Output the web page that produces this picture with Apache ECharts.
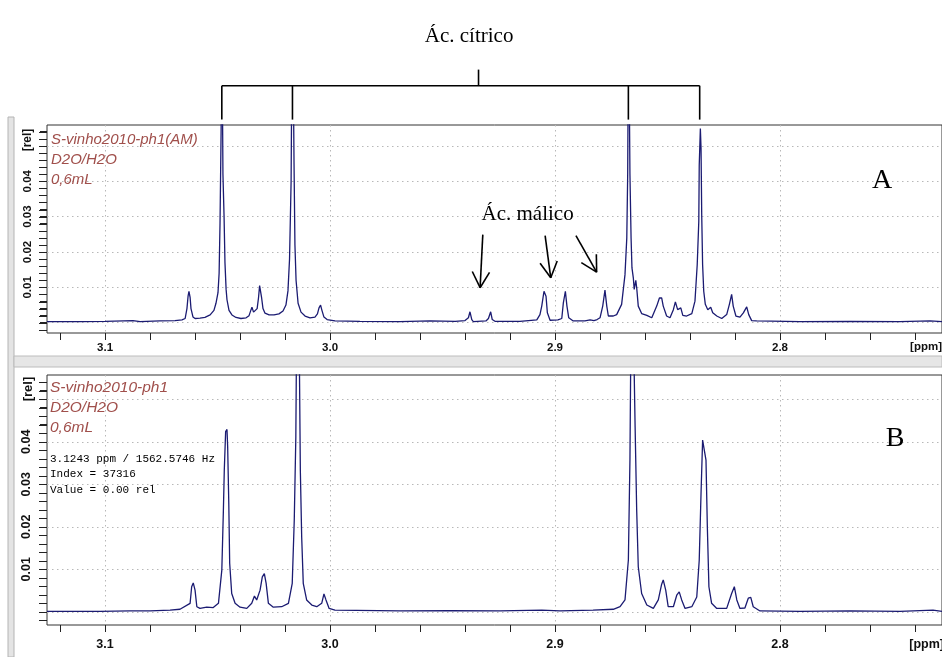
<!DOCTYPE html>
<html>
<head>
<meta charset="utf-8">
<script src="https://cdn.jsdelivr.net/npm/echarts@6/dist/echarts.min.js"></script>
<style>
html,body{margin:0;padding:0;background:#fff;}
#chart{width:942px;height:657px;}
</style>
</head>
<body>
<div id="chart"></div>
<script>
// ---------- DATA ----------
// Panel A: S-vinho2010-ph1(AM)
const ppmA = [3.1258,3.1111,3.1000,3.0876,3.0844,3.0756,3.0689,3.0658,3.0644,3.0636,3.0631,3.0627,3.0622,3.0618,3.0609,3.0600,3.0578,3.0556,3.0533,3.0516,3.0507,3.0498,3.0493,3.0489,3.0484,3.0481,3.0476,3.0471,3.0467,3.0462,3.0458,3.0449,3.0436,3.0418,3.0396,3.0373,3.0360,3.0351,3.0347,3.0340,3.0333,3.0324,3.0318,3.0313,3.0310,3.0304,3.0298,3.0289,3.0271,3.0249,3.0227,3.0209,3.0196,3.0187,3.0180,3.0173,3.0168,3.0162,3.0160,3.0156,3.0151,3.0142,3.0129,3.0111,3.0089,3.0067,3.0056,3.0049,3.0042,3.0036,3.0027,3.0013,2.9978,2.9867,2.9689,2.9556,2.9444,2.9400,2.9385,2.9378,2.9370,2.9363,2.9307,2.9296,2.9286,2.9279,2.9267,2.9156,2.9081,2.9067,2.9059,2.9049,2.9040,2.9034,2.9022,2.8987,2.8970,2.8963,2.8954,2.8947,2.8939,2.8919,2.8867,2.8844,2.8827,2.8813,2.8800,2.8788,2.8778,2.8770,2.8763,2.8741,2.8726,2.8704,2.8689,2.8681,2.8677,2.8673,2.8669,2.8667,2.8662,2.8658,2.8652,2.8648,2.8641,2.8637,2.8630,2.8615,2.8592,2.8570,2.8548,2.8536,2.8526,2.8519,2.8504,2.8489,2.8474,2.8465,2.8455,2.8441,2.8432,2.8415,2.8392,2.8378,2.8368,2.8361,2.8359,2.8354,2.8351,2.8348,2.8344,2.8339,2.8332,2.8321,2.8308,2.8299,2.8281,2.8259,2.8237,2.8225,2.8215,2.8208,2.8196,2.8178,2.8163,2.8148,2.8139,2.8126,2.8104,2.7911,2.7689,2.7467,2.7333,2.7280];
const relA = [0.0003,0.0003,0.0004,0.0006,0.0003,0.0005,0.0006,0.0008,0.0012,0.0040,0.0075,0.0089,0.0072,0.0040,0.0016,0.0012,0.0013,0.0015,0.0022,0.0035,0.0055,0.0085,0.0140,0.0280,0.0550,0.0900,0.0420,0.0300,0.0170,0.0095,0.0065,0.0035,0.0022,0.0015,0.0012,0.0014,0.0020,0.0037,0.0044,0.0030,0.0028,0.0040,0.0070,0.0105,0.0108,0.0070,0.0040,0.0027,0.0022,0.0022,0.0025,0.0033,0.0050,0.0090,0.0180,0.0400,0.0900,0.0600,0.0450,0.0220,0.0120,0.0055,0.0030,0.0019,0.0014,0.0016,0.0025,0.0042,0.0050,0.0035,0.0016,0.0009,0.0005,0.0004,0.0003,0.0005,0.0004,0.0006,0.0014,0.0031,0.0009,0.0003,0.0005,0.0012,0.0031,0.0009,0.0004,0.0004,0.0008,0.0023,0.0047,0.0089,0.0075,0.0028,0.0007,0.0008,0.0012,0.0056,0.0089,0.0047,0.0014,0.0005,0.0005,0.0008,0.0006,0.0009,0.0014,0.0047,0.0092,0.0047,0.0019,0.0019,0.0023,0.0052,0.0136,0.0240,0.0420,0.0900,0.0900,0.0420,0.0240,0.0155,0.0127,0.0094,0.0120,0.0099,0.0047,0.0026,0.0021,0.0014,0.0047,0.0070,0.0070,0.0047,0.0019,0.0014,0.0037,0.0059,0.0037,0.0042,0.0021,0.0019,0.0026,0.0061,0.0164,0.0286,0.0446,0.0549,0.0493,0.0305,0.0164,0.0089,0.0052,0.0037,0.0044,0.0028,0.0019,0.0012,0.0023,0.0052,0.0080,0.0047,0.0019,0.0016,0.0028,0.0045,0.0023,0.0006,0.0005,0.0003,0.0004,0.0003,0.0005,0.0003];

// Panel B: S-vinho2010-ph1
const ppmB = [3.1258,3.1022,3.0889,3.0800,3.0711,3.0667,3.0622,3.0615,3.0608,3.0600,3.0592,3.0578,3.0548,3.0519,3.0496,3.0481,3.0474,3.0470,3.0464,3.0458,3.0455,3.0450,3.0446,3.0437,3.0422,3.0400,3.0370,3.0348,3.0336,3.0326,3.0311,3.0301,3.0292,3.0284,3.0274,3.0252,3.0215,3.0185,3.0168,3.0159,3.0152,3.0148,3.0142,3.0138,3.0132,3.0126,3.0119,3.0104,3.0081,3.0059,3.0037,3.0027,3.0018,3.0004,2.9978,2.9689,2.9467,2.9244,2.9059,2.8978,2.8831,2.8741,2.8711,2.8689,2.8674,2.8667,2.8659,2.8652,2.8644,2.8637,2.8630,2.8615,2.8592,2.8563,2.8541,2.8526,2.8519,2.8508,2.8497,2.8474,2.8459,2.8448,2.8437,2.8422,2.8392,2.8370,2.8359,2.8351,2.8344,2.8337,2.8329,2.8323,2.8316,2.8304,2.8281,2.8237,2.8215,2.8203,2.8192,2.8178,2.8156,2.8141,2.8130,2.8119,2.8089,2.7911,2.7689,2.7467,2.7320,2.7280];
const relB = [0.0001,0.0001,0.0002,0.0002,0.0004,0.0006,0.0020,0.0059,0.0068,0.0051,0.0012,0.0008,0.0011,0.0010,0.0020,0.0098,0.0239,0.0333,0.0424,0.0429,0.0388,0.0255,0.0114,0.0043,0.0020,0.0011,0.0008,0.0020,0.0037,0.0028,0.0051,0.0082,0.0090,0.0067,0.0020,0.0011,0.0012,0.0020,0.0067,0.0216,0.0412,0.0700,0.0900,0.0700,0.0333,0.0176,0.0067,0.0028,0.0016,0.0012,0.0020,0.0042,0.0028,0.0008,0.0004,0.0002,0.0003,0.0002,0.0004,0.0002,0.0004,0.0006,0.0012,0.0028,0.0122,0.0357,0.0900,0.0900,0.0435,0.0239,0.0106,0.0043,0.0016,0.0008,0.0028,0.0065,0.0075,0.0051,0.0012,0.0012,0.0039,0.0047,0.0028,0.0008,0.0012,0.0035,0.0122,0.0279,0.0404,0.0408,0.0357,0.0200,0.0059,0.0020,0.0008,0.0008,0.0043,0.0059,0.0028,0.0008,0.0009,0.0032,0.0034,0.0012,0.0002,0.0001,0.0002,0.0001,0.0004,0.0001];

// Axis ticks / labels / grid lines
const xLabelTicks = [3.1, 3.0, 2.9, 2.8];
const xMinorTicks = [3.12,3.10,3.08,3.06,3.04,3.02,3.00,2.98,2.96,2.94,2.92,2.90,2.88,2.86,2.84,2.82,2.80,2.78,2.76,2.74];
const yLabelTicks = [0.01, 0.02, 0.03, 0.04];
const yMinorTicks = [-0.002,0,0.002,0.004,0.006,0.008,0.01,0.012,0.014,0.016,0.018,0.02,0.022,0.024,0.026,0.028,0.03,0.032,0.034,0.036,0.038,0.04,0.042,0.044,0.046,0.048,0.05,0.052,0.054];
const yGridLines = [0, 0.01, 0.02, 0.03, 0.04, 0.05];

// Annotations
const citricPeaks = [3.0481, 3.0167, 2.8674, 2.8357];
const malicArrows = [ // [tailPpm, tailRel, tipPpm, tipRel]
  [2.9321, 0.0249, 2.9333, 0.0099],
  [2.9044, 0.0246, 2.9019, 0.0127],
  [2.8907, 0.0246, 2.8815, 0.0143]
];
const panelALines = ['S-vinho2010-ph1(AM)', 'D2O/H2O', '0,6mL'];
const panelBLines = ['S-vinho2010-ph1', 'D2O/H2O', '0,6mL'];
const cursorLines = ['3.1243 ppm / 1562.5746 Hz', 'Index = 37316', 'Value = 0.00 rel'];

// ---------- CHART ----------
const X_MIN = 2.728, X_MAX = 3.1258;
const Y_RANGE = [[-0.0029, 0.0559], [-0.0031, 0.0557]];
const SANS = '"Liberation Sans", Arial, sans-serif';
const SERIF = '"Liberation Serif", "Times New Roman", serif';
const DOT = {type: [1.5, 3.5], color: '#b8b8b8', width: 1};

function makeX(gi, margin, fs) {
  return {
    gridIndex: gi, type: 'value', position: 'bottom', inverse: true, min: X_MIN, max: X_MAX,
    axisLine: {show: false, onZero: false},
    splitLine: {show: false},
    axisTick: {show: true, customValues: xMinorTicks, length: 7, lineStyle: {color: '#222', width: 1}},
    axisLabel: {customValues: xLabelTicks, margin: margin, fontFamily: SANS, fontWeight: 'bold', fontSize: fs, color: '#111',
      formatter: v => v.toFixed(1)}
  };
}
function gridX(gi) {
  return {
    gridIndex: gi, type: 'value', position: 'top', inverse: true, min: X_MIN, max: X_MAX,
    axisLine: {show: false, onZero: false},
    axisTick: {show: false, customValues: xLabelTicks},
    axisLabel: {show: false, customValues: xLabelTicks},
    splitLine: {show: true, lineStyle: DOT}
  };
}
function makeY(gi, fs, margin) {
  return {
    gridIndex: gi, type: 'value', position: 'left', min: Y_RANGE[gi][0], max: Y_RANGE[gi][1],
    axisLine: {show: false, onZero: false},
    splitLine: {show: false},
    axisTick: {show: true, customValues: yMinorTicks, length: 7, lineStyle: {color: '#222', width: 1}},
    axisLabel: {customValues: yLabelTicks, rotate: 90, margin: margin, fontFamily: SANS, fontWeight: 'bold', fontSize: fs, color: '#111',
      formatter: v => v.toFixed(2)}
  };
}
function gridY(gi) {
  return {
    gridIndex: gi, type: 'value', position: 'right', min: Y_RANGE[gi][0], max: Y_RANGE[gi][1],
    axisLine: {show: false, onZero: false},
    axisTick: {show: false, customValues: yGridLines},
    axisLabel: {show: false, customValues: yGridLines},
    splitLine: {show: true, lineStyle: DOT}
  };
}
function spectrum(gi, xs, ys) {
  return {
    type: 'line', xAxisIndex: gi, yAxisIndex: gi, z: 3,
    data: xs.map((p, i) => [p, ys[i]]),
    showSymbol: false, symbol: 'none', clip: true,
    lineStyle: {color: '#1b1b72', width: 1.3}
  };
}

const chart = echarts.init(document.getElementById('chart'));
chart.setOption({
  animation: false,
  backgroundColor: '#fff',
  grid: [
    {left: 47, top: 125, width: 895, height: 208, show: true, borderColor: '#333', borderWidth: 1, backgroundColor: 'transparent'},
    {left: 47, top: 375, width: 895, height: 250, show: true, borderColor: '#333', borderWidth: 1, backgroundColor: 'transparent'}
  ],
  xAxis: [makeX(0, 9, 11.5), makeX(1, 13, 12.5), gridX(0), gridX(1)],
  yAxis: [makeY(0, 11.5, 13), makeY(1, 12.5, 14), gridY(0), gridY(1)],
  series: [spectrum(0, ppmA, relA), spectrum(1, ppmB, relB)]
});

// ---------- ANNOTATIONS ----------
const P = (gi, x, y) => chart.convertToPixel({xAxisIndex: gi, yAxisIndex: gi}, [x, y]);
const g = [];
const lineS = {stroke: '#000', lineWidth: 1.6};

// y-axis minor ticks, placed through the axis scale (drawn outside the left frame)
[0, 1].forEach(gi => {
  const left = P(gi, X_MAX, 0)[0];
  yMinorTicks.forEach(v => {
    const y = Math.round(P(gi, X_MAX, v)[1]) + 0.5;
    g.push({type: 'line', shape: {x1: left - 8, y1: y, x2: left, y2: y}, style: {stroke: '#222', lineWidth: 1}, silent: true});
  });
});

// window chrome
g.push({type: 'rect', shape: {x: 8, y: 117, width: 6, height: 540}, style: {fill: '#e4e4e4', stroke: '#b4b4b4', lineWidth: 1}, silent: true, z: -10});
g.push({type: 'rect', shape: {x: 14, y: 356, width: 928, height: 11}, style: {fill: '#e6e6e6', stroke: '#bcbcbc', lineWidth: 1}, silent: true, z: -10});

// citric acid bracket
const cx = citricPeaks.map(p => P(0, p, 0)[0]);
const barY = 85.7, dropY = 119.6;
g.push({type: 'line', shape: {x1: cx[0], y1: barY, x2: cx[3], y2: barY}, style: lineS, silent: true});
cx.forEach(x => g.push({type: 'line', shape: {x1: x, y1: barY, x2: x, y2: dropY}, style: lineS, silent: true}));
const stemX = P(0, 2.9340, 0)[0];
g.push({type: 'line', shape: {x1: stemX, y1: 69.6, x2: stemX, y2: barY}, style: lineS, silent: true});
g.push({type: 'text', x: P(0, 2.9382, 0)[0], y: 36, style: {text: 'Ác. cítrico', font: '21px ' + SERIF, fill: '#000', align: 'center', verticalAlign: 'middle'}, silent: true});

// malic acid arrows
const mt = P(0, 2.9122, 0.0305);
g.push({type: 'text', x: mt[0], y: mt[1], style: {text: 'Ác. málico', font: '21px ' + SERIF, fill: '#000', align: 'center', verticalAlign: 'middle'}, silent: true});
malicArrows.forEach(a => {
  const t0 = P(0, a[0], a[1]), t1 = P(0, a[2], a[3]);
  g.push({type: 'line', shape: {x1: t0[0], y1: t0[1], x2: t1[0], y2: t1[1]}, style: lineS, silent: true});
  const ang = Math.atan2(t1[1] - t0[1], t1[0] - t0[0]);
  [-0.5, 0.5].forEach(d => {
    const L = 18;
    g.push({type: 'line', shape: {x1: t1[0], y1: t1[1], x2: t1[0] - L * Math.cos(ang + d), y2: t1[1] - L * Math.sin(ang + d)}, style: lineS, silent: true});
  });
});

// panel letters
g.push({type: 'text', x: 882, y: 181, style: {text: 'A', font: '28px ' + SERIF, fill: '#000', align: 'center', verticalAlign: 'middle'}, silent: true});
g.push({type: 'text', x: 895, y: 439, style: {text: 'B', font: '28px ' + SERIF, fill: '#000', align: 'center', verticalAlign: 'middle'}, silent: true});

// sample info (red)
panelALines.forEach((t, i) => g.push({type: 'text', x: 51, y: 132 + 20 * i, style: {text: t, font: 'italic 15px ' + SANS, fill: '#a04f4b', align: 'left', verticalAlign: 'top'}, silent: true}));
panelBLines.forEach((t, i) => g.push({type: 'text', x: 50, y: 380 + 20 * i, style: {text: t, font: 'italic 15.5px ' + SANS, fill: '#a04f4b', align: 'left', verticalAlign: 'top'}, silent: true}));
cursorLines.forEach((t, i) => g.push({type: 'text', x: 50, y: 459 + 15.5 * i, style: {text: t, font: '11px "Liberation Mono", "Courier New", monospace', fill: '#000', align: 'left', verticalAlign: 'middle'}, silent: true}));

// axis unit labels
g.push({type: 'text', x: 28, y: 140, rotation: Math.PI / 2, style: {text: '[rel]', font: 'bold 12px ' + SANS, fill: '#111', align: 'center', verticalAlign: 'middle'}, silent: true});
g.push({type: 'text', x: 28, y: 389, rotation: Math.PI / 2, style: {text: '[rel]', font: 'bold 13px ' + SANS, fill: '#111', align: 'center', verticalAlign: 'middle'}, silent: true});
g.push({type: 'text', x: 942, y: 347, style: {text: '[ppm]', font: 'bold 11.5px ' + SANS, fill: '#111', align: 'right', verticalAlign: 'middle'}, silent: true});
g.push({type: 'text', x: 944, y: 645, style: {text: '[ppm]', font: 'bold 12.5px ' + SANS, fill: '#111', align: 'right', verticalAlign: 'middle'}, silent: true});

chart.setOption({graphic: g});
</script>
</body>
</html>
